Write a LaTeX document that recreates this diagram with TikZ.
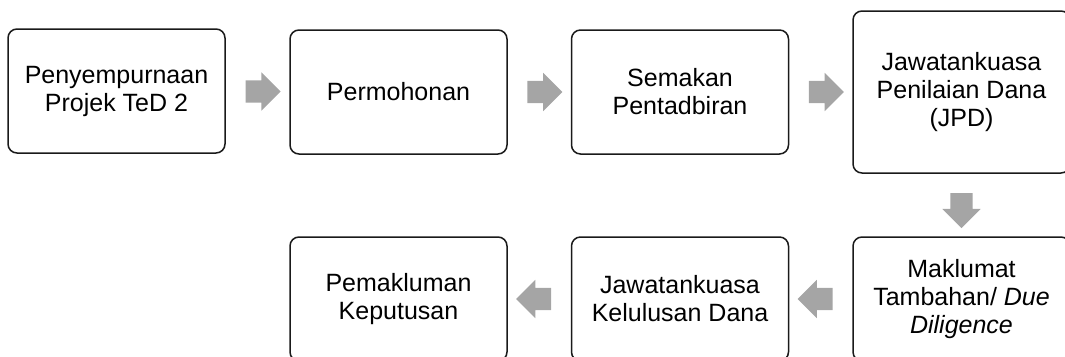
\documentclass[tikz,border=0pt]{standalone}
\usepackage{fontspec}
\setmainfont{Liberation Sans}
\usetikzlibrary{calc,shapes.arrows}

\definecolor{arrowgray}{HTML}{A5A5A5}
\definecolor{boxline}{HTML}{1A1A1A}

\tikzset{
    stage/.style={draw=boxline, line width=1.5pt, rounded corners=9pt,
        minimum width=217pt, minimum height=124pt, align=center,
        font=\fontsize{25}{28}\selectfont},
    flowarrow/.style={single arrow, fill=arrowgray, draw=none,
        inner xsep=0pt, inner ysep=11pt, minimum height=35pt,
        single arrow head extend=8pt}
}

\begin{document}
\begin{tikzpicture}[x=1pt, y=-1pt]
    \useasboundingbox (0,0) rectangle (1065,356);
    \clip (0,0) rectangle (1065,356);

    % Top row
    \node[stage] (penyempurnaan) at (116.5,91) {Penyempurnaan\\Projek TeD 2};
    \node[stage] (permohonan) at (398.5,92) {Permohonan};
    \node[stage] (semakan) at (680,92) {Semakan\\Pentadbiran};
    \node[stage, minimum height=162pt] (jpd) at (961.5,92) {Jawatankuasa\\Penilaian Dana\\(JPD)};

    % Bottom row
    \node[stage] (maklumat) at (961.5,299) {Maklumat\\Tambahan/ \textit{Due}\\\textit{Diligence}};
    \node[stage] (jkd) at (680,299) {Jawatankuasa\\Kelulusan Dana};
    \node[stage] (pemakluman) at (398.5,299) {Pemakluman\\Keputusan};

    % Block arrows
    \node[flowarrow] (arrA) at ($(penyempurnaan.east)!0.5!(permohonan.west)$) {};
    \node[flowarrow] (arrB) at ($(permohonan.east)!0.5!(semakan.west)$) {};
    \node[flowarrow] (arrC) at ($(semakan.east)!0.5!(jpd.west)$) {};
    \node[flowarrow, rotate=-90] (arrD) at ($(jpd.south)!0.5!(maklumat.north)$) {};
    \node[flowarrow, rotate=180] (arrE) at ($(maklumat.west)!0.5!(jkd.east)$) {};
    \node[flowarrow, rotate=180] (arrF) at ($(jkd.west)!0.5!(pemakluman.east)$) {};
\end{tikzpicture}
\end{document}
